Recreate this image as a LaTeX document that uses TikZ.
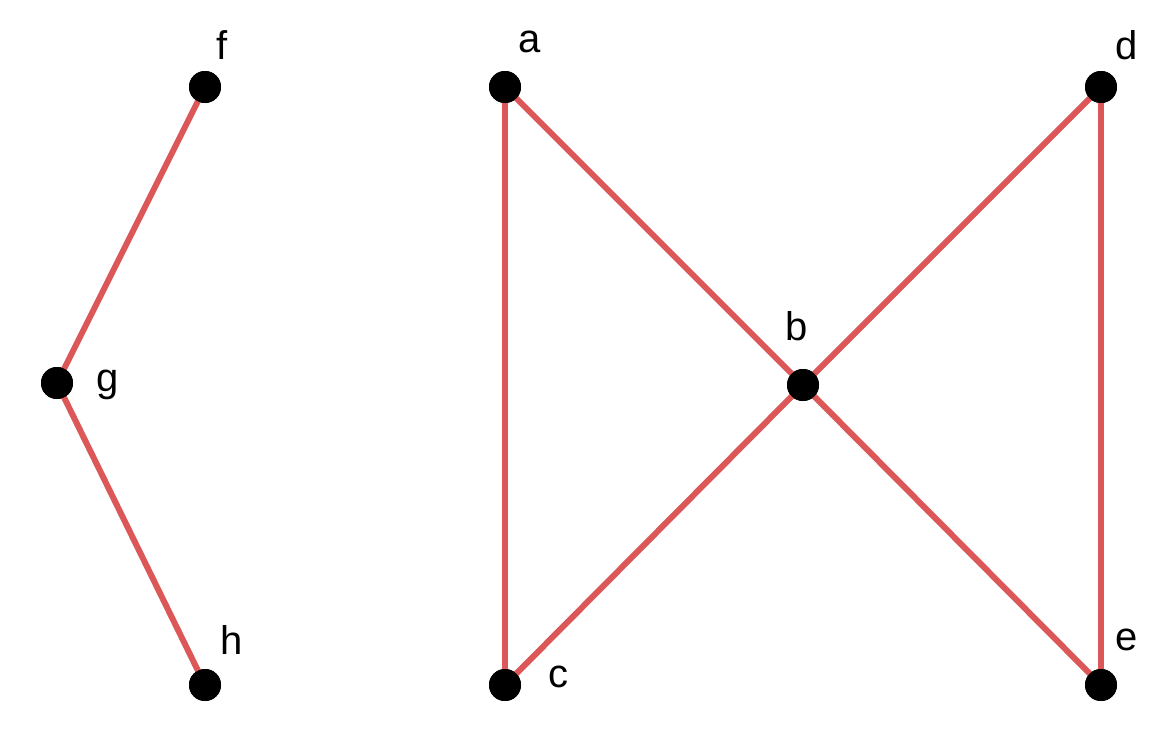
\documentclass[tikz,border=0pt]{standalone}
\usepackage{fontspec}
\setmainfont{Liberation Sans}
\usetikzlibrary{positioning}
\definecolor{edgered}{RGB}{220,88,88}
\tikzset{
  vertex/.style={circle, fill=black, inner sep=0pt, minimum size=32pt},
  vlabel/.style={font=\fontsize{40}{46}\selectfont, inner sep=0pt},
  edge/.style={draw=edgered, line width=6pt}
}
\begin{document}
\begin{tikzpicture}[x=1pt, y=-1pt]
\useasboundingbox (0,0) rectangle (1174,728);

\foreach \n/\x/\y in {f/205/87, g/57/383, h/205/685, a/505/87, c/505/685, b/803/385, d/1101/87, e/1101/685}
  \node [vertex] (\n) at (\x,\y) {};

\foreach \n/\x/\y in {f/222/45, g/108/385, h/232/640, a/530/42, c/558/677, b/797/326, d/1127/45, e/1127/640}
  \node [vlabel] (\n-label) at (\x,\y) {\n};

\begin{scope}[on background layer/.try]
\foreach \i/\j in {f/g, g/h, a/c, a/b, c/b, d/b, e/b, d/e}
  \draw [edge] (\i.center) -- (\j.center);
\end{scope}

% redraw dots over edges
\foreach \n/\x/\y in {f/205/87, g/57/383, h/205/685, a/505/87, c/505/685, b/803/385, d/1101/87, e/1101/685}
  \fill (\x,\y) circle (16pt);

\end{tikzpicture}
\end{document}
